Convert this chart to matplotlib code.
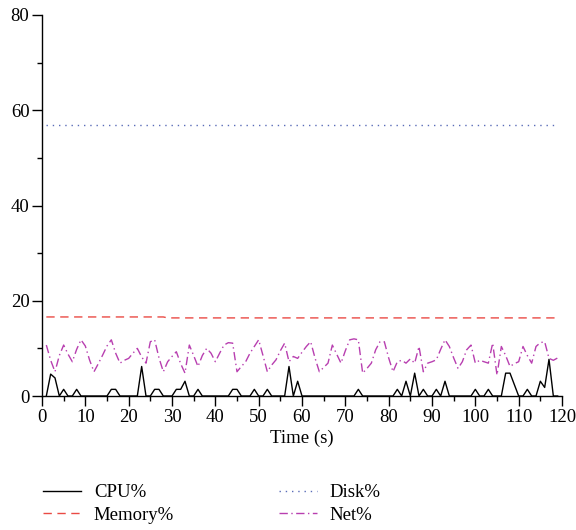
import numpy as np
import matplotlib
matplotlib.use("Agg")
import matplotlib.pyplot as plt
from matplotlib.ticker import MultipleLocator

# time in seconds, one sample per second
time_s = list(range(1, 120))

cpu_peaks = {
    2: 4.6, 3: 3.8, 5: 1.4, 8: 1.4, 16: 1.4, 17: 1.4, 23: 6.2, 26: 1.4, 27: 1.4,
    31: 1.4, 32: 1.4, 33: 3.1, 36: 1.4, 44: 1.4, 45: 1.4, 49: 1.4, 52: 1.4,
    57: 6.2, 59: 3.1, 73: 1.4, 82: 1.4, 84: 3.1, 86: 4.8, 88: 1.4, 91: 1.4,
    93: 3.1, 100: 1.4, 103: 1.4, 107: 4.8, 108: 4.8, 109: 2.4, 112: 1.4,
    115: 3.1, 116: 1.8, 117: 7.7,
}
cpu = [cpu_peaks.get(t, 0.0) for t in time_s]

memory = [16.6 if t <= 28 else 16.4 for t in time_s]

disk = [56.9] * len(time_s)

net = [
    10.7, 7.5, 5.1, 8.5, 10.7, 8.8, 7.2, 9.8, 11.8, 10.5,
    7.5, 5.1, 6.8, 8.6, 10.5, 11.8, 9.0, 6.9, 7.5, 7.9,
    9.0, 10.0, 8.2, 6.9, 11.4, 11.8, 8.0, 5.1, 7.2, 8.3,
    9.3, 6.8, 4.8, 10.7, 8.5, 6.2, 8.5, 10.0, 9.0, 7.2,
    9.0, 10.7, 11.2, 11.1, 5.1, 6.2, 7.2, 9.0, 10.4, 11.8,
    8.5, 5.1, 6.5, 7.6, 9.5, 11.1, 7.2, 8.3, 7.9, 9.2,
    10.4, 11.4, 8.0, 5.1, 6.0, 6.9, 10.7, 8.8, 6.9, 9.5,
    11.8, 12.0, 11.8, 4.8, 5.8, 6.9, 9.7, 11.4, 11.4, 8.0,
    5.1, 7.2, 7.5, 6.9, 7.8, 6.9, 10.4, 5.1, 6.9, 7.2,
    7.6, 9.8, 11.8, 10.4, 8.0, 5.8, 7.2, 9.7, 10.7, 6.9,
    7.5, 7.2, 6.9, 11.1, 4.4, 10.4, 8.5, 6.2, 6.8, 7.2,
    10.4, 8.5, 6.9, 10.4, 11.2, 11.4, 7.9, 7.5, 8.0,
]

plt.rcParams["font.family"] = ["Liberation Serif", "DejaVu Serif"]
plt.rcParams["font.size"] = 13.5

fig = plt.figure(figsize=(5.76, 5.30), dpi=100)
ax = fig.add_axes([0.0729, 0.2528, 0.9028, 0.7189])

ax.plot(time_s, cpu, color="black", lw=1.0, label="CPU%")
ax.plot(time_s, memory, color="#ea4a44", lw=1.0, dashes=(6, 4), label="Memory%")
ax.plot(time_s, disk, color="#5a6cb8", lw=1.0, dashes=(1, 3.5), label="Disk%")
ax.plot(time_s, net, color="#b83fb0", lw=1.0, dashes=(6, 2.5, 1, 2.5), label="Net%")

ax.set_xlim(0, 120)
ax.set_ylim(0, 80)
ax.xaxis.set_major_locator(MultipleLocator(10))
ax.xaxis.set_minor_locator(MultipleLocator(5))
ax.yaxis.set_major_locator(MultipleLocator(20))
ax.yaxis.set_minor_locator(MultipleLocator(10))
ax.tick_params(which="major", direction="out", length=7, width=1.0, labelsize=13.5, pad=2)
ax.tick_params(which="minor", direction="out", length=3.5, width=1.0)
for side in ("top", "right"):
    ax.spines[side].set_visible(False)
for side in ("left", "bottom"):
    ax.spines[side].set_linewidth(1.0)

ax.set_xlabel("Time (s)", fontsize=13.5, labelpad=3)

fig.legend(loc="center left", bbox_to_anchor=(0.075, 0.049), ncol=2,
           frameon=False, fontsize=13.5, handlelength=2.0, labelspacing=0.3,
           columnspacing=5.6, borderpad=0, borderaxespad=0, handletextpad=0.7)

fig.savefig("out.png", dpi=100)
